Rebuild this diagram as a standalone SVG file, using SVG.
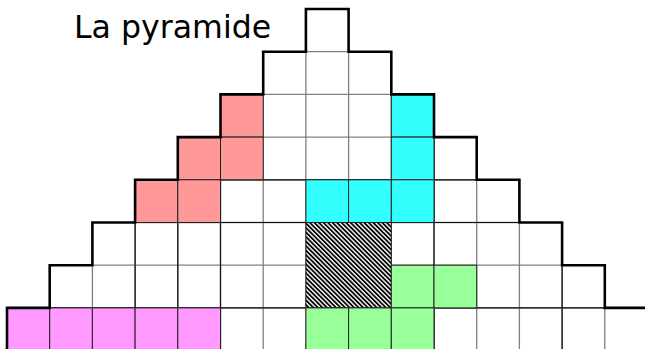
<svg xmlns="http://www.w3.org/2000/svg" width="645" height="349" viewBox="0 0 645 349">
<style>
.grid{fill:none;stroke:#808080;stroke-width:1.3}
.dark{fill:none;stroke:#111;stroke-width:1.2}
.cell{stroke:#222;stroke-width:1}
.pink{fill:#ff9999}
.cyan{fill:#33ffff}
.green{fill:#99ff99}
.mag{fill:#ff99ff}
.outline{fill:none;stroke:#000;stroke-width:2.6;stroke-linejoin:miter}
.title{font-family:"DejaVu Sans",Verdana,sans-serif;font-size:31.6px;fill:#000}
</style>
<defs>
<pattern id="hatch" width="3.2" height="3.2" patternUnits="userSpaceOnUse" patternTransform="rotate(-45)">
<rect width="3.2" height="3.2" fill="#fff"/>
<rect width="1.8" height="3.2" fill="#000"/>
</pattern>
</defs>
<rect width="645" height="349" fill="#fff"/>
<text class="title" x="74" y="38">La pyramide</text>
<g id="pyramid-grid">
<path class="grid" d="M305.9 51.7H348.6 M263.2 94.4H391.3 M220.5 137.1H434 M177.8 179.8H476.7 M135.1 222.5H519.4 M92.4 265.2H562.1 M49.7 307.9H604.8 M49.7 307.9V350 M92.4 265.2V350 M135.1 222.5V350 M177.8 179.8V350 M220.5 137.1V350 M263.2 94.4V350 M305.9 51.7V350 M348.6 51.7V350 M391.3 94.4V350 M434 137.1V350 M476.7 179.8V350 M519.4 222.5V350 M562.1 265.2V350 M604.8 307.9V350"/>
<path class="dark" d="M177.8 179.8H476.7 M135.1 222.5H519.4 M49.7 307.9H604.8 M135.1 222.5V350 M177.8 179.8V350 M220.5 137.1V350 M434 137.1V350 M562.1 265.2V350"/>
</g>
<g id="pink-block">
<rect class="cell pink" x="220.5" y="94.4" width="42.7" height="42.7"/>
<rect class="cell pink" x="177.8" y="137.1" width="42.7" height="42.7"/>
<rect class="cell pink" x="220.5" y="137.1" width="42.7" height="42.7"/>
<rect class="cell pink" x="135.1" y="179.8" width="42.7" height="42.7"/>
<rect class="cell pink" x="177.8" y="179.8" width="42.7" height="42.7"/>
</g>
<g id="cyan-block">
<rect class="cell cyan" x="391.3" y="94.4" width="42.7" height="42.7"/>
<rect class="cell cyan" x="391.3" y="137.1" width="42.7" height="42.7"/>
<rect class="cell cyan" x="305.9" y="179.8" width="42.7" height="42.7"/>
<rect class="cell cyan" x="348.6" y="179.8" width="42.7" height="42.7"/>
<rect class="cell cyan" x="391.3" y="179.8" width="42.7" height="42.7"/>
</g>
<g id="hatched-block">
<rect x="305.9" y="222.5" width="85.4" height="85.4" fill="url(#hatch)" stroke="#222" stroke-width="1"/>
</g>
<g id="green-block">
<rect class="cell green" x="391.3" y="265.2" width="42.7" height="42.7"/>
<rect class="cell green" x="434" y="265.2" width="42.7" height="42.7"/>
<rect class="cell green" x="305.9" y="307.9" width="42.7" height="42.7"/>
<rect class="cell green" x="348.6" y="307.9" width="42.7" height="42.7"/>
<rect class="cell green" x="391.3" y="307.9" width="42.7" height="42.7"/>
</g>
<g id="magenta-block">
<rect class="cell mag" x="7" y="307.9" width="42.7" height="42.7"/>
<rect class="cell mag" x="49.7" y="307.9" width="42.7" height="42.7"/>
<rect class="cell mag" x="92.4" y="307.9" width="42.7" height="42.7"/>
<rect class="cell mag" x="135.1" y="307.9" width="42.7" height="42.7"/>
<rect class="cell mag" x="177.8" y="307.9" width="42.7" height="42.7"/>
</g>
<g id="outline">
<path class="outline" d="M7 351V307.9H49.7V265.2H92.4V222.5H135.1V179.8H177.8V137.1H220.5V94.4H263.2V51.7H305.9V9H348.6V51.7H391.3V94.4H434V137.1H476.7V179.8H519.4V222.5H562.1V265.2H604.8V307.9H648"/>
</g>
</svg>
